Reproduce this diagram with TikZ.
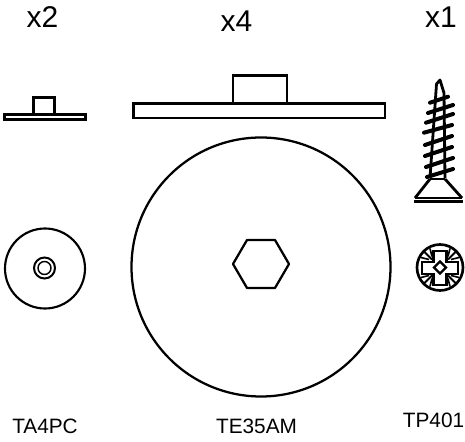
\documentclass[tikz,border=0pt]{standalone}
\usepackage{fontspec}
\setmainfont{Liberation Sans}
\tikzset{
  part/.style={draw=black,line width=1.7pt,fill=white},
  thin part/.style={draw=black,line width=1.4pt},
  thread/.style={draw=black,line width=3pt,line cap=round},
  qty/.style={font=\fontsize{22.5}{24}\selectfont,inner sep=0pt,anchor=base},
  code/.style={font=\fontsize{15.6}{17}\selectfont,inner sep=0pt,anchor=base}
}
\begin{document}
\begin{tikzpicture}[x=0.75pt,y=-0.75pt]
\useasboundingbox (0,0) rectangle (465,442);
\node[qty] (q2) at (42.5,28) {x2};
\node[qty] (q4) at (236.5,31.5) {x4};
\node[qty] (q1) at (441,28) {x1};
\node[code] (l1) at (45,433.5) {TA4PC};
\node[code] (l2) at (256.5,433.5) {TE35AM};
\node[code] (l3) at (433.5,428) {TP401};
% small washer
\draw[part,line width=1.9pt] (4.5,114.5) rectangle (85.5,119.5);
\draw[part,line width=1.7pt] (33.5,97.5) rectangle (54.5,114.5);
\draw[thin part,line width=1.6pt] (45,268.5) circle (40);
\draw[thin part,line width=1.5pt] (44.5,268) circle (10.5);
\draw[thin part,line width=1.1pt] (44.5,268) circle (6.5);
% large washer
\draw[part] (133.5,103.5) rectangle (385,118);
\draw[part] (233,75.5) rectangle (287,103.5);
\draw[thin part,line width=1.7pt] (261,267) circle (129.5);
\draw[thin part,line width=1.7pt,line join=round] (233,264) -- (247,240) -- (275,240) -- (289,264) -- (275,288) -- (247,288) -- cycle;
% screw
\draw[part,line width=2.1pt,line join=round] (430,178) -- (436.5,84) -- (440,80) -- (444,93) -- (445,178);
\draw[thread] (430,102.7) -- (448,96.7);
\draw[thread] (428,113) -- (453,105);
\draw[thread] (426,122.7) -- (453,114);
\draw[thread] (424,132.7) -- (452,125);
\draw[thread] (425,145) -- (452,136);
\draw[thread] (425,156) -- (452,147);
\draw[thread] (426,167) -- (453,158);
\draw[thread] (427,177) -- (453,169);
\draw[thin part,line width=2.1pt] (430,179) -- (415,198) (445,179) -- (462,198);
\draw[thin part,line width=2pt] (430,179) -- (445,179);
\draw[thin part,line width=2pt] (415,198) -- (462,198);
\draw[thin part,line width=2.2pt] (414,201.5) -- (463,201.5);
% screw head
\draw[thin part,line width=2pt] (440,267.5) circle (23);
\draw[thin part,line width=1.9pt,line join=miter] (433.5,251) -- (446.5,251) -- (446.5,262) -- (458,262) -- (458,274) -- (446.5,274) -- (446.5,285) -- (433.5,285) -- (433.5,274) -- (422,274) -- (422,262) -- (433.5,262) -- cycle;
\draw[thin part,line width=1.7pt] (440,261.5) -- (446,267.5) -- (440,273.5) -- (434,267.5) -- cycle;
\foreach \dx/\dy in {1/1,1/-1,-1/1,-1/-1}{
  \draw[thin part,line width=1.5pt] ({440+\dx*8},{267.5+\dy*8}) -- ({440+\dx*16},{267.5+\dy*16});
  \draw[thin part,line width=1.2pt] ({440+\dx*8},{267.5+\dy*11}) -- ({440+\dx*10},{267.5+\dy*19});
  \draw[thin part,line width=1.2pt] ({440+\dx*11},{267.5+\dy*8}) -- ({440+\dx*19},{267.5+\dy*10});
}
\end{tikzpicture}
\end{document}
